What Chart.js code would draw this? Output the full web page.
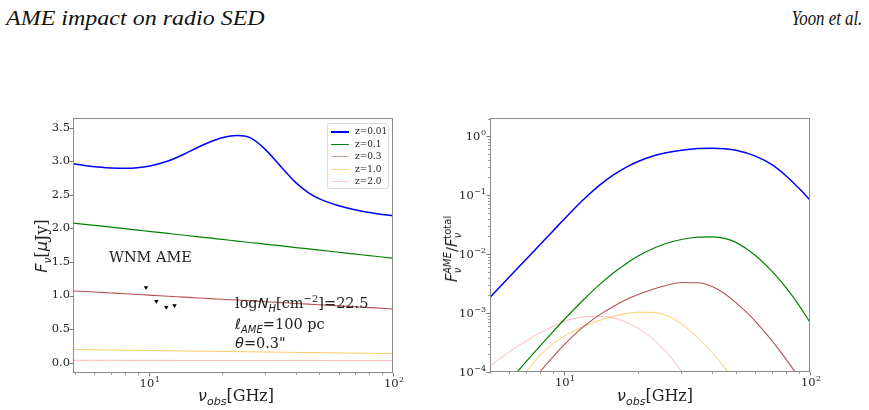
<!DOCTYPE html>
<html><head><meta charset="utf-8">
<script src="https://cdn.jsdelivr.net/npm/chart.js@4.4.1/dist/chart.umd.min.js"></script>
<style>
body{margin:0;width:869px;height:410px;position:relative;background:#fff;overflow:hidden;font-family:"DejaVu Serif",serif;color:#222;}
canvas{position:absolute;top:0;}
#c1{left:0;} #c2{left:430px;}
.hdr{position:absolute;top:7px;font-family:"Liberation Serif",serif;font-style:italic;font-size:20px;color:#111;white-space:nowrap;}
.t{position:absolute;white-space:nowrap;color:#222;line-height:16px;}
.m{font-family:"DejaVu Sans",sans-serif;font-style:italic;}
sub,sup{line-height:0;}
.rot{transform:translate(-50%,-50%) rotate(-90deg);}
.legend{position:absolute;left:327px;top:123px;width:60px;height:64px;border:1px solid #d8d8d8;border-radius:3px;background:rgba(255,255,255,0.85);font-size:9px;}
.legend div{position:absolute;left:0;height:12px;}
.legend span.ln{position:absolute;left:3px;width:18px;top:6px;}
.legend span.lb{position:absolute;left:27px;top:0;line-height:12px;}
</style></head>
<body>
<div class="hdr" style="left:6px;transform-origin:0 0;transform:scaleX(1.2);">AME impact on radio SED</div>
<div class="hdr" style="right:7px;transform-origin:100% 0;transform:scaleX(0.84);">Yoon et al.</div>
<canvas id="c1" width="430" height="410"></canvas>
<canvas id="c2" width="439" height="410"></canvas>

<div class="legend" id="legend"></div>

<div class="t rot" style="left:42px;top:246px;font-size:16px;"><span class="m">F</span><sub class="m" style="font-size:11px;">ν</sub>[<span class="m">μ</span>Jy]</div>
<div class="t" style="left:198px;top:388px;font-size:16px;"><span class="m">ν</span><sub class="m" style="font-size:11px;">obs</sub>[GHz]</div>
<div class="t" style="left:109px;top:249px;font-size:14.5px;">WNM AME</div>
<div class="t" style="left:235px;top:295px;font-size:14.5px;">log<span class="m">N</span><sub class="m" style="font-size:10px;">H</sub>[cm<sup style="font-size:10px;">−2</sup>]=22.5</div>
<div class="t" style="left:235px;top:316px;font-size:14.5px;"><span class="m">ℓ</span><sub class="m" style="font-size:10px;">AME</sub>=100 pc</div>
<div class="t" style="left:235px;top:335px;font-size:14.5px;"><span class="m">θ</span>=0.3"</div>

<div class="t rot" style="left:452px;top:249px;font-size:15px;"><span class="m">F</span><sub class="m" style="font-size:10px;">ν</sub><sup class="m" style="font-size:10px;margin-left:-6px;">AME</sup>/<span class="m">F</span><sub class="m" style="font-size:10px;">ν</sub><sup class="m" style="font-size:10px;margin-left:-6px;font-style:normal;">total</sup></div>
<div class="t" style="left:617px;top:388px;font-size:16px;"><span class="m">ν</span><sub class="m" style="font-size:11px;">obs</sub>[GHz]</div>

<script>
// ---------- data ----------
const freqGHz = [4.9,6,7,8,9,10,12,14,16,18,20,23,26,30,35,40,45,50,60,70,80,90,100];
const seriesLabels = ['z=0.01','z=0.1','z=0.3','z=1.0','z=2.0'];
// left panel: F_nu [muJy]
const sedZ001 = [2.965,2.919,2.902,2.897,2.905,2.928,3.005,3.110,3.214,3.296,3.352,3.385,3.353,3.179,2.908,2.682,2.534,2.440,2.337,2.277,2.236,2.208,2.190];
const sedZ01  = [2.078,2.046,2.019,1.996,1.975,1.957,1.925,1.898,1.875,1.855,1.836,1.812,1.790,1.766,1.739,1.715,1.695,1.677,1.645,1.618,1.595,1.574,1.556];
const sedZ03  = [1.068,1.052,1.038,1.026,1.016,1.006,0.990,0.976,0.964,0.954,0.944,0.932,0.921,0.908,0.894,0.882,0.872,0.862,0.846,0.832,0.820,0.810,0.800];
const sedZ10  = [0.194,0.190,0.187,0.184,0.182,0.180,0.176,0.173,0.171,0.168,0.166,0.163,0.161,0.158,0.155,0.152,0.150,0.148,0.144,0.141,0.138,0.136,0.134];
const sedZ20  = [0.034,0.034,0.034,0.033,0.033,0.033,0.033,0.032,0.032,0.032,0.032,0.032,0.031,0.031,0.031,0.031,0.031,0.031,0.030,0.030,0.030,0.030,0.030];
// observed upper limits
const obsFreq = [9.75,10.75,11.8,12.75];
const obsFlux = [1.12,0.915,0.825,0.85];
// right panel: F_AME / F_total
const ratioZ001 = [1.69e-3,4.12e-3,8.11e-3,0.01462,0.0245,0.0390,0.0845,0.1496,0.2249,0.302,0.373,0.461,0.525,0.579,0.617,0.625,0.614,0.579,0.461,0.329,0.212,0.132,0.0832];
const ratioZ01  = [null,7.13e-5,1.48e-4,2.78e-4,4.78e-4,7.69e-4,1.68e-3,3.10e-3,4.94e-3,7.03e-3,9.27e-3,0.01245,0.01514,0.01770,0.01941,0.01968,0.01854,0.01581,9.51e-3,5.13e-3,2.67e-3,1.38e-3,6.92e-4];
const ratioZ03  = [null,null,5.24e-5,1.02e-4,1.79e-4,2.89e-4,5.87e-4,9.40e-4,1.32e-3,1.71e-3,2.07e-3,2.54e-3,2.94e-3,3.30e-3,3.27e-3,2.82e-3,2.13e-3,1.50e-3,7.26e-4,3.41e-4,1.64e-4,8.18e-5,null];
const ratioZ10  = [null,3.98e-5,9.95e-5,1.94e-4,3.00e-4,4.04e-4,5.92e-4,7.53e-4,8.85e-4,9.82e-4,1.035e-3,1.028e-3,9.10e-4,6.55e-4,3.81e-4,2.15e-4,1.17e-4,6.18e-5,null,null,null,null,null];
const ratioZ20  = [1.186e-4,2.22e-4,3.35e-4,4.65e-4,5.94e-4,7.19e-4,8.63e-4,8.83e-4,8.15e-4,6.92e-4,5.48e-4,3.60e-4,2.21e-4,1.035e-4,3.92e-5,null,null,null,null,null,null,null,null];
// ticks
const xMajorTicks = [10,100];
const xMinorTicks = [5,6,7,8,9,20,30,40,50,60,70,80,90];
const leftYTicks = [0,0.5,1.0,1.5,2.0,2.5,3.0,3.5];
const rightYMajor = [1e-4,1e-3,1e-2,1e-1,1];
const rightYMinor = [2e-4,3e-4,4e-4,5e-4,6e-4,7e-4,8e-4,9e-4,2e-3,3e-3,4e-3,5e-3,6e-3,7e-3,8e-3,9e-3,0.02,0.03,0.04,0.05,0.06,0.07,0.08,0.09,0.2,0.3,0.4,0.5,0.6,0.7,0.8,0.9,2];

// ---------- styles ----------
const colors = ['#0000ff','#008000','rgba(165,42,42,0.82)','rgba(255,165,0,0.6)','rgba(250,140,140,0.6)'];
const legendColors = ['#0000ff','#008000','rgba(165,42,42,0.45)','rgba(255,165,0,0.45)','rgba(250,140,140,0.45)'];
const widths = [1.5,1.2,1.1,1.0,1.0];

const pts = (xs, ys) => xs.map((x,i)=>({x:x,y:ys[i]}));

const lg = document.getElementById('legend');
seriesLabels.forEach((l,i)=>{
  const d=document.createElement('div');
  d.style.top=(1+i*12.6)+'px'; d.style.width='60px';
  d.innerHTML='<span class="ln" style="border-top:'+(i===0?2:1.5)+'px solid '+legendColors[i]+'"></span><span class="lb">'+l+'</span>';
  lg.appendChild(d);
});

const SUPMAP = {'-':'−'};
function drawPow(ctx, x, y, exp, align){
  // draws "10" with a raised exponent; (x,y): anchor, y is vertical centre of "10"
  const base='10', e=String(exp).replace('-','−');
  ctx.font='11.5px "DejaVu Serif", serif';
  const wb=ctx.measureText(base).width;
  ctx.font='8px "DejaVu Serif", serif';
  const we=ctx.measureText(e).width;
  const w=wb+we+0.5;
  let sx = align==='center' ? x-w/2 : x-w;
  ctx.textBaseline='alphabetic'; ctx.textAlign='left';
  ctx.font='11.5px "DejaVu Serif", serif';
  ctx.fillText(base, sx, y+4.2);
  ctx.font='8px "DejaVu Serif", serif';
  ctx.fillText(e, sx+wb+0.5, y-1.2);
}

const framePlugin = {
  id:'frame',
  afterDraw(chart){
    const {ctx, chartArea:a, scales} = chart;
    const o = chart.options.plugins.frame;
    ctx.save();
    ctx.strokeStyle='#8a8a8a'; ctx.lineWidth=1;
    ctx.strokeRect(Math.round(a.left)+0.5, Math.round(a.top)+0.5, Math.round(a.right-a.left)-1, Math.round(a.bottom-a.top)-1);
    ctx.strokeStyle='#555';
    const tx=(vals,len,w)=>{ctx.lineWidth=w;vals.forEach(v=>{const x=Math.round(scales.x.getPixelForValue(v))+0.5;ctx.beginPath();ctx.moveTo(x,a.bottom);ctx.lineTo(x,a.bottom+len);ctx.stroke();});};
    const ty=(vals,len,w)=>{ctx.lineWidth=w;vals.forEach(v=>{const y=Math.round(scales.y.getPixelForValue(v))+0.5;if(y<a.top-0.5||y>a.bottom+0.5)return;ctx.beginPath();ctx.moveTo(a.left,y);ctx.lineTo(a.left-len,y);ctx.stroke();});};
    tx(o.xMajor,3.5,0.8); tx(o.xMinor,2,0.6);
    ty(o.yMajor,3.5,0.8); if(o.yMinor) ty(o.yMinor,2,0.6);
    // power-of-ten labels
    ctx.fillStyle='#222';
    o.xMajor.forEach(v=>{drawPow(ctx, scales.x.getPixelForValue(v)+1, a.bottom+10, Math.round(Math.log10(v)), 'center');});
    if(o.yLog) o.yMajor.forEach(v=>{drawPow(ctx, a.left-4, scales.y.getPixelForValue(v), Math.round(Math.log10(v)), 'right');});
    ctx.restore();
  }
};

const tickFont = {family:'"DejaVu Serif", serif', size:11.5};

new Chart(document.getElementById('c1'), {
  type:'line',
  data:{datasets:[
    {label:seriesLabels[0],data:pts(freqGHz,sedZ001),borderColor:colors[0],borderWidth:widths[0],pointRadius:0,cubicInterpolationMode:'monotone'},
    {label:seriesLabels[1],data:pts(freqGHz,sedZ01),borderColor:colors[1],borderWidth:widths[1],pointRadius:0,cubicInterpolationMode:'monotone'},
    {label:seriesLabels[2],data:pts(freqGHz,sedZ03),borderColor:colors[2],borderWidth:widths[2],pointRadius:0,cubicInterpolationMode:'monotone'},
    {label:seriesLabels[3],data:pts(freqGHz,sedZ10),borderColor:colors[3],borderWidth:widths[3],pointRadius:0,cubicInterpolationMode:'monotone'},
    {label:seriesLabels[4],data:pts(freqGHz,sedZ20),borderColor:colors[4],borderWidth:widths[4],pointRadius:0,cubicInterpolationMode:'monotone'},
    {label:'obs',data:pts(obsFreq,obsFlux),showLine:false,pointStyle:'triangle',rotation:180,pointRadius:2.6,backgroundColor:'#000',borderColor:'#000',borderWidth:0}
  ]},
  options:{
    responsive:false,animation:false,devicePixelRatio:1,
    layout:{padding:{left:0,top:118,right:37,bottom:0}},
    plugins:{legend:{display:false},tooltip:{enabled:false},
      frame:{xMajor:xMajorTicks,xMinor:xMinorTicks,yMajor:leftYTicks,yLog:false}},
    scales:{
      x:{type:'logarithmic',min:4.9,max:100,
        afterFit(s){s.height=37;},
        afterBuildTicks(s){s.ticks=xMajorTicks.map(v=>({value:v}));},
        grid:{display:false,drawTicks:false},border:{display:false},
        ticks:{display:false}},
      y:{type:'linear',min:-0.155,max:3.646,
        afterFit(s){s.width=73;},
        afterBuildTicks(s){s.ticks=leftYTicks.map(v=>({value:v}));},
        grid:{display:false,drawTicks:false},border:{display:false},
        ticks:{padding:3,color:'#222',font:tickFont,callback:(v)=>v.toFixed(1)}}
    }
  },
  plugins:[framePlugin]
});

new Chart(document.getElementById('c2'), {
  type:'line',
  data:{datasets:[
    {label:seriesLabels[0],data:pts(freqGHz,ratioZ001),borderColor:colors[0],borderWidth:widths[0],pointRadius:0,cubicInterpolationMode:'monotone'},
    {label:seriesLabels[1],data:pts(freqGHz,ratioZ01),borderColor:colors[1],borderWidth:widths[1],pointRadius:0,cubicInterpolationMode:'monotone'},
    {label:seriesLabels[2],data:pts(freqGHz,ratioZ03),borderColor:colors[2],borderWidth:widths[2],pointRadius:0,cubicInterpolationMode:'monotone'},
    {label:seriesLabels[3],data:pts(freqGHz,ratioZ10),borderColor:colors[3],borderWidth:widths[3],pointRadius:0,cubicInterpolationMode:'monotone'},
    {label:seriesLabels[4],data:pts(freqGHz,ratioZ20),borderColor:colors[4],borderWidth:widths[4],pointRadius:0,cubicInterpolationMode:'monotone'}
  ]},
  options:{
    responsive:false,animation:false,devicePixelRatio:1,
    layout:{padding:{left:0,top:118,right:59,bottom:0}},
    plugins:{legend:{display:false},tooltip:{enabled:false},
      frame:{xMajor:xMajorTicks,xMinor:xMinorTicks,yMajor:rightYMajor,yMinor:rightYMinor,yLog:true}},
    scales:{
      x:{type:'logarithmic',min:5,max:100,
        afterFit(s){s.height=38;},
        afterBuildTicks(s){s.ticks=xMajorTicks.map(v=>({value:v}));},
        grid:{display:false,drawTicks:false},border:{display:false},
        ticks:{display:false}},
      y:{type:'logarithmic',min:1e-4,max:2.04,
        afterFit(s){s.width=60;},
        afterBuildTicks(s){s.ticks=rightYMajor.map(v=>({value:v}));},
        grid:{display:false,drawTicks:false},border:{display:false},
        ticks:{display:false}}
    }
  },
  plugins:[framePlugin]
});
</script>
</body></html>
